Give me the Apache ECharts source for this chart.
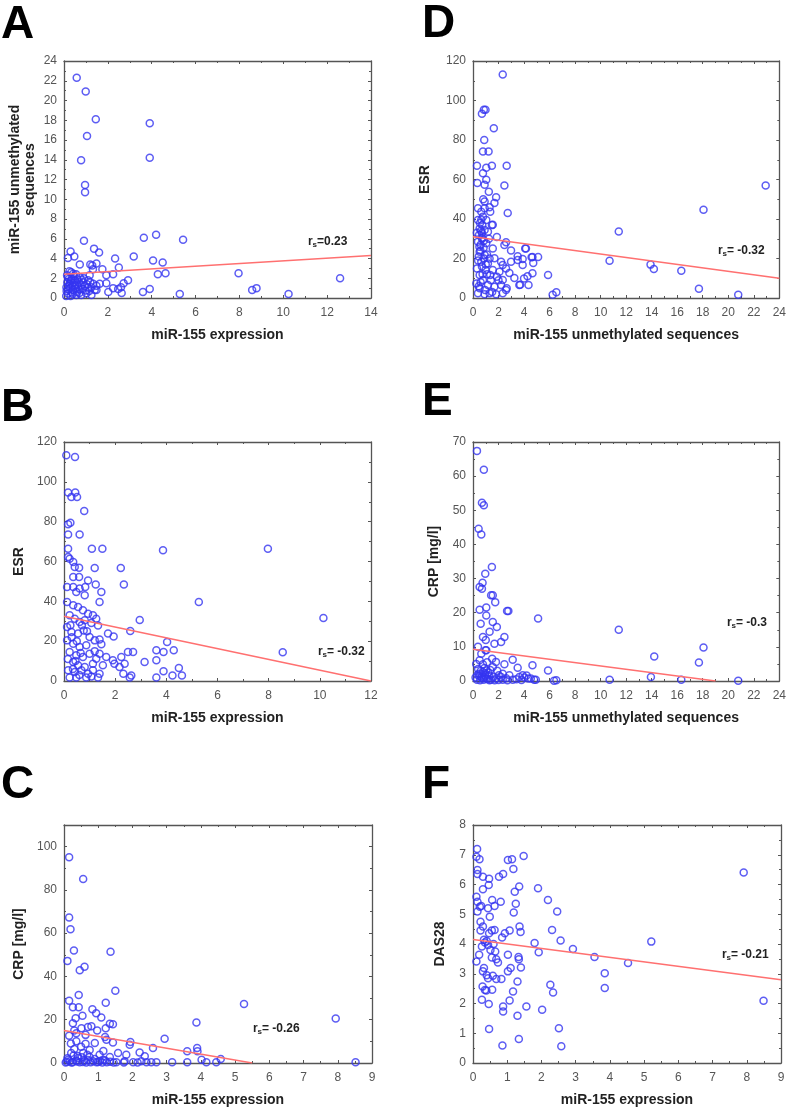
<!DOCTYPE html>
<html><head><meta charset="utf-8">
<script src="https://cdn.jsdelivr.net/npm/echarts@6/dist/echarts.min.js"></script>
<style>html,body{margin:0;padding:0;background:#fff}#c{width:789px;height:1110px}</style>
</head><body><div id="c"></div>
<script>
// ---------- DATA ----------
// Panel A: x = miR-155 expression, y = miR-155 unmethylated sequences
const pointsA = [[0.58,22.3],[0.99,20.9],[1.45,18.1],[1.05,16.4],[3.91,17.7],[3.91,14.2],[0.78,13.95],[0.96,11.45],[0.96,10.7],[0.91,5.8],[3.64,6.1],[4.2,6.4],[5.43,5.9],[0.3,4.7],[0.18,4.05],[0.47,4.2],[1.37,5.0],[1.6,4.6],[0.72,3.4],[2.33,4.0],[3.18,4.2],[4.06,3.8],[4.5,3.6],[2.5,3.1],[1.29,3.3],[1.48,3.5],[1.32,2.9],[1.75,2.9],[2.24,2.4],[1.93,2.3],[4.28,2.4],[4.63,2.5],[7.96,2.5],[12.59,2.0],[2.92,1.8],[2.72,1.5],[1.93,1.5],[2.47,0.9],[2.63,0.5],[2.02,0.6],[3.6,0.6],[3.91,0.9],[5.28,0.4],[8.58,0.8],[8.78,1.0],[10.24,0.4],[2.24,1.0],[1.48,1.25],[2.6,1.1],[1.2,3.4],
[0.14,2.3],[0.33,2.6],[0.72,2.1],[0.49,1.8],[0.26,1.45],[0.41,0.8],[0.18,0.45],[0.64,1.1],[0.87,1.6],[1.1,1.8],[1.25,1.1],[1.4,0.8],[1.63,1.45],[1.02,0.45],[0.79,0.3],[0.56,0.3],[0.11,1.1],[0.33,1.8],[1.17,2.3],[1.48,0.8],[0.95,1.2],[0.44,2.2],[0.72,0.85],[1.25,0.3],[0.23,1.95],[1.33,1.45],[0.3,0.2],[0.5,1.3],[0.6,0.6],[0.85,0.9],[1.05,1.4],[0.2,0.9],[0.38,1.25],[0.1,0.2],[1.15,0.7],[0.68,1.6],[0.9,2.0],[0.35,2.0],[0.55,2.4],[0.25,2.7],[0.15,1.6],[0.4,0.4],[0.28,1.0],[0.62,1.9],[0.8,1.3],
[0.12,0.7],[0.22,1.25],[0.36,0.55],[0.45,1.55],[0.52,0.9],[0.7,0.5],[0.82,1.85],[0.98,0.75],[1.1,1.05],[1.2,1.6],[0.3,1.7],[0.18,2.1],[0.42,2.45],[0.6,1.35]];
const fitA = [[0,2.4],[14,4.3]];
// Panel D: x = miR-155 unmethylated sequences, y = ESR
const pointsD = [[2.33,113.2],[0.7,93.3],[0.85,95.3],[0.98,95.3],[1.63,86],[0.88,80],[0.78,74.2],[1.22,74.2],[0.31,67],[1.48,67],[2.64,67],[1.04,66],[0.34,58.2],[0.91,57.3],[2.46,57],[0.78,63.2],[1.04,59.9],[1.24,53.8],[1.81,51],[0.39,45.5],[1.68,48.1],[0.91,48.9],[2.72,43],[0.65,39.6],[1.55,37.1],[11.42,33.7],[1.87,30.9],[0.7,32.9],[2.59,28.2],[2.98,24],[4.09,25.1],[3.5,21.1],[3.89,19.7],[4.66,20.7],[5.1,20.7],[4.72,17.7],[10.7,18.9],[13.91,16.9],[14.17,14.7],[16.32,13.8],[18.06,44.7],[22.93,57],[17.7,4.7],[20.78,1.7],[5.88,11.6],[6.24,1.7],[6.53,2.9],[4.27,11],[4.35,6.6],[3.7,6.7],[3.24,10.1],[2.85,12.6],
[0.91,45.4],[1.3,45.9],[0.65,43.7],[0.78,41.2],[1.35,43.7],[0.39,39.5],[1.04,39.5],[0.73,36.9],[1.48,36.9],[0.52,35.2],[0.91,34.4],[1.17,33.6],[0.47,31.9],[0.73,30.5],[0.39,28.5],[1.04,27.7],[0.83,25.5],[1.55,25.1],[0.52,23.4],[2.46,26.8],[0.91,21.8],[1.68,20.1],[2.2,18.4],[2.33,16.7],[0.65,18.4],[1.17,17.5],[0.31,15],[0.98,14.2],[1.55,14.2],[2.07,13.3],[2.59,15],[0.52,11.6],[1.35,11.6],[1.87,10.8],[0.78,9.1],[2.33,9.1],[0.26,7.4],[1.17,6.6],[1.68,5.7],[2.2,6.6],[0.52,4.9],[2.64,4.9],[0.39,2.4],[0.91,1.9],[1.3,2.4],[1.81,1.9],[2.33,2.4],[2.59,4],[3.63,6.6],[4.0,9.9],[4.66,12.5],[3.89,16.7],[4.15,25.1],[4.59,20.6],[3.5,19.2],[2.98,18.4],[0.6,27],[0.85,29],[0.45,21],[0.7,16],[1.1,22],[0.6,8],[1.4,9],[0.95,4],[0.3,33],[1.25,30],[0.55,38],[0.8,50],[0.5,26],[0.75,12],
[0.62,34],[0.7,30],[0.58,24],[0.85,20],[1.0,17],[1.3,20],[0.4,19],[1.1,12],[1.5,3],[2.0,9],[0.45,6]];
const fitD = [[0,31],[24,10]];
// Panel B: x = miR-155 expression, y = ESR
const pointsB = [[0.09,113.3],[0.43,112.5],[0.16,94.6],[0.44,94.6],[0.51,92.4],[0.29,92.4],[0.79,85.4],[0.16,78.7],[0.25,79.5],[0.16,73.6],[0.61,73.6],[0.16,66.4],[1.09,66.4],[1.5,66.4],[3.87,65.6],[7.97,66.4],[0.16,62.3],[0.22,61.4],[0.36,59.7],[0.42,57.2],[0.59,56.9],[1.2,56.7],[2.22,56.7],[0.36,52.2],[0.59,52.2],[0.94,50.5],[1.24,48.5],[2.34,48.5],[0.12,47.2],[0.36,47.2],[0.61,46.4],[0.83,47.2],[1.46,44.7],[0.81,43],[0.48,44.7],[5.27,39.7],[1.39,39.7],[0.12,39.7],[0.36,38],[0.55,37.2],[0.74,35.5],[0.94,33.8],[1.13,33],[1.26,31.3],[0.22,33],[0.42,31.3],[0.61,29.6],[0.81,30.5],[1.07,29.1],[1.33,27.9],[0.12,27.1],[0.29,24.6],[0.55,23.8],[0.77,25.4],[1.0,22.1],[1.2,20.4],[1.39,20.8],[1.46,18.4],[1.72,23.8],[1.94,22.4],[2.59,25.1],[2.96,30.6],[10.14,31.6],[8.55,14.4],[0.12,20.4],[0.36,18.7],[0.61,17.1],[0.87,17.9],[0.22,14.6],[0.48,12.9],[0.74,12.1],[1.0,13.7],[1.26,11.2],[1.39,13.7],[1.65,12.1],[1.91,10.4],[2.24,12.1],[2.5,14.6],[2.7,14.6],[3.15,9.5],[3.61,10.4],[3.61,15.4],[3.89,14.6],[4.03,19.6],[4.29,15.4],[0.36,9.5],[0.55,7.9],[0.81,7.0],[1.13,8.7],[1.52,7.9],[1.97,8.7],[2.17,7],[2.37,8.7],[0.16,5.4],[0.42,4.5],[0.68,5.4],[0.94,3.7],[1.13,5.4],[1.39,3.7],[0.22,1.7],[0.48,1.7],[0.87,1.7],[1.07,2.3],[1.33,1.7],[2.57,1.7],[2.63,2.8],[3.61,1.7],[3.89,4.9],[4.24,2.8],[4.49,6.5],[4.61,2.8],[2.32,3.7],[0.3,22],[0.5,20],[0.7,28],[0.45,10],[0.65,14],[0.25,28],[0.9,25],[0.35,6],[0.6,3],[1.2,15],[0.15,11]];
const fitB = [[0,32.5],[12,0]];
// Panel E: x = miR-155 unmethylated sequences, y = CRP [mg/l]
const pointsE = [[0.31,67.4],[0.85,61.9],[0.7,52.2],[0.85,51.5],[0.44,44.6],[0.65,42.9],[1.48,33.4],[0.96,31.4],[0.75,28.8],[0.52,27.5],[0.7,27],[1.42,25.1],[1.55,25.1],[1.74,23.1],[2.67,20.5],[2.77,20.5],[5.1,18.3],[11.42,15],[1.04,21.5],[0.52,20.9],[0.6,16.8],[1.04,19.2],[1.55,17.3],[1.87,15.8],[1.3,14.4],[0.78,12.9],[2.46,12.9],[2.2,11.4],[1.68,10.9],[0.39,10],[1.04,9],[18.06,9.8],[14.2,7.2],[17.7,5.4],[3.11,6.2],[3.5,3.9],[4.66,4.6],[5.88,3.1],[2.46,4.9],[1.55,4.1],[0.78,2.6],[3.89,1.7],[4.33,0.7],[4.79,0.4],[6.35,0.1],[6.53,0.2],[10.7,0.4],[13.94,1.2],[16.32,0.4],[20.78,0.1],
[0.98,9],[0.65,8],[0.52,6.1],[1.04,3.1],[0.78,4.9],[2.33,2.1],[2.85,1.7],[3.63,1.2],[4.02,1.0],[4.53,0.7],[4.92,0.4],[0.47,2.1],[0.65,1.2],[1.04,0.7],[1.42,0.4],[1.81,0.7],[2.33,0.4],[3.11,0.4],[0.31,0.4],[0.83,0.4],[1.24,1.7],[2.02,1.7],[0.9,3.8],[1.2,2.5],[0.5,1.5],[1.6,1.2],[2.6,0.8],[3.4,0.5],[0.95,1.6],[1.1,5.5],[0.4,3.5],[1.9,3],[0.7,0.8],[2.0,0.3],[1.3,0.2],[0.2,1.0],[1.5,6.5],[1.0,12],
[0.55,0.2],[0.88,1.1],[1.15,0.5],[1.7,0.2],[2.2,1.2],[2.7,0.2],[0.35,1.8],[0.6,2.9],[0.95,2.3],[1.35,3.2],[3.8,0.3],[4.2,1.6],[0.25,5],[1.8,5.6]];
const fitE = [[0,9.3],[19,0]];
// Panel C: x = miR-155 expression, y = CRP [mg/l]
const pointsC = [[0.15,95.1],[0.56,85],[0.15,67.3],[0.19,61.8],[0.29,52],[1.36,51.4],[0.1,47.2],[0.46,42.9],[0.6,44.5],[1.5,33.4],[0.43,31.4],[0.15,28.8],[1.22,27.8],[5.26,27.3],[0.26,25.8],[0.43,25.8],[7.94,20.6],[3.87,18.7],[0.83,24.8],[0.94,23],[0.54,21.8],[1.09,21],[0.34,20.7],[0.26,18.4],[1.43,17.9],[1.34,18.1],[0.7,16.6],[0.51,16.1],[1.22,16.1],[0.97,15],[0.15,12.6],[0.36,13.8],[0.63,13],[1.24,10.7],[1.43,9.5],[0.36,10],[0.63,8.9],[0.9,9.2],[1.94,9.7],[1.92,8.4],[2.94,11.2],[2.6,6.9],[3.6,5.4],[3.89,6.9],[3.9,5.4],[2.21,4.9],[2.36,3.1],[1.82,3.8],[1.58,4.6],[4.02,1.5],[4.58,1.8],[8.52,0.3],[3.16,0.3],[3.6,0.3],[4.16,0.3],[2.55,0.3],[4.45,0.3],[1.04,3.8],[0.56,4.6],[0.21,4.6],[0.41,2.3],[0.75,2.8],[1.34,2.8],[1.14,1.5],[0.85,0.8],[0.17,0.8],[0.46,0.3],[1.53,0.3],[2.02,0.3],[2.26,0.8],[1.77,0.8],[2.7,0.3],[2.41,0.3],
[0.05,0.2],[0.25,0.4],[0.35,1.2],[0.55,0.5],[0.65,0.2],[0.7,1.4],[0.95,0.3],[1.05,0.9],[1.25,0.4],[1.35,0.6],[1.45,0.2],[0.3,6.5],[0.2,9],[0.5,7.5],[0.75,6],[1.15,5.5],[0.4,3.2],[0.1,2.2],[0.9,1.9],[1.2,12],[0.3,15],[0.8,17],[1.0,0.5],[0.12,1.5],
[0.08,0.6],[0.22,0.2],[0.38,0.7],[0.6,1.0],[0.78,0.3],[1.12,0.2],[1.2,1.2],[0.28,3.5],[0.52,2.6],[0.68,3.8],[1.75,0.2],[2.15,0.2]];
const fitC = [[0,15],[5.5,0]];
// Panel F: x = miR-155 expression, y = DAS28
const pointsF = [[0.12,7.19],[0.1,6.93],[0.19,6.85],[1.02,6.82],[1.14,6.85],[1.48,6.96],[0.13,6.49],[1.18,6.52],[0.13,6.35],[0.29,6.26],[0.47,6.19],[0.76,6.26],[0.88,6.35],[7.91,6.4],[0.46,5.98],[1.35,5.93],[1.9,5.87],[0.29,5.84],[1.22,5.76],[0.1,5.59],[0.13,5.42],[0.24,5.28],[0.56,5.48],[0.81,5.42],[2.19,5.48],[1.25,5.35],[0.63,5.28],[0.44,5.2],[0.13,5.09],[1.19,5.06],[2.46,5.09],[0.49,4.92],[0.22,4.75],[0.29,4.59],[1.36,4.59],[2.31,4.47],[0.63,4.47],[0.22,4.45],[1.39,4.4],[1.07,4.45],[0.47,4.36],[0.93,4.36],[0.32,4.14],[2.56,4.12],[5.21,4.08],[0.85,4.22],[1.8,4.03],[0.44,3.97],[0.26,3.92],[1.92,3.72],[2.92,3.83],[0.18,3.64],[0.51,3.8],[3.55,3.56],[4.53,3.36],[1.02,3.64],[1.33,3.56],[1.34,3.49],[0.73,3.38],[0.68,3.49],[0.1,3.41],[0.32,3.19],[0.29,3.08],[1.4,3.21],[1.1,3.19],[1.02,3.08],[0.58,2.93],[0.44,2.85],[0.68,2.82],[0.83,2.82],[3.85,3.02],[0.28,2.57],[0.39,2.44],[0.56,2.46],[2.26,2.63],[2.34,2.37],[3.85,2.52],[1.3,2.74],[1.17,2.4],[8.49,2.09],[0.26,2.13],[0.46,1.98],[1.07,2.1],[1.56,1.9],[2.02,1.79],[0.88,1.9],[0.88,1.73],[1.3,1.59],[0.47,1.14],[2.51,1.17],[1.34,0.81],[0.86,0.59],[2.58,0.56],[0.35,4.05],[0.4,4.1],[0.55,3.55],[0.6,4.0],[0.35,2.45],[0.4,2.95],[0.55,4.45],[0.2,5.25],[0.65,3.75]];
const fitF = [[0,4.15],[9,2.8]];

const rsA = '=0.23', rsD = '= -0.32', rsB = '= -0.32', rsE = '= -0.3', rsC = '= -0.26', rsF = '= -0.21';
const xNameExpr = 'miR-155 expression';
const xNameUnmeth = 'miR-155 unmethylated sequences';

// ---------- LAYOUT ----------
const panels = [
  {letter:'A', pts:pointsA, fit:fitA, rs:rsA, grid:{left:64,top:61,width:307,height:237}, x:[0,14,2], y:[0,24,2], xName:xNameExpr, yName:'miR-155 unmethylated\nsequences', yGap:26, letterPos:[1,2], rsPos:[308,236]},
  {letter:'D', pts:pointsD, fit:fitD, rs:rsD, grid:{left:473,top:61,width:309,height:237}, x:[0,24,2], y:[0,120,20], xName:xNameUnmeth, yName:'ESR', yGap:40, letterPos:[422,1], rsPos:[718,245]},
  {letter:'B', pts:pointsB, fit:fitB, rs:rsB, grid:{left:64,top:442,width:307,height:239}, x:[0,12,2], y:[0,120,20], xName:xNameExpr, yName:'ESR', yGap:37, letterPos:[1,385], rsPos:[318,646]},
  {letter:'E', pts:pointsE, fit:fitE, rs:rsE, grid:{left:473,top:442,width:309,height:239}, x:[0,24,2], y:[0,70,10], xName:xNameUnmeth, yName:'CRP [mg/l]', yGap:31, letterPos:[422,379], rsPos:[727,617]},
  {letter:'C', pts:pointsC, fit:fitC, rs:rsC, grid:{left:64,top:825,width:308,height:238}, x:[0,9,1], y:[0,110,20], xName:xNameExpr, yName:'CRP [mg/l]', yGap:37, letterPos:[1,762], rsPos:[253,1023]},
  {letter:'F', pts:pointsF, fit:fitF, rs:rsF, grid:{left:473,top:825,width:308,height:238}, x:[0,9,1], y:[0,8,1], xName:xNameExpr, yName:'DAS28', yGap:25, letterPos:[422,762], rsPos:[722,949]}
];

const FONT = '"Liberation Sans", Arial, sans-serif';
const frameColor = '#555';
const option = {
  animation:false, backgroundColor:'#fff',
  grid:[], xAxis:[], yAxis:[], series:[], graphic:[]
};

panels.forEach((p,i)=>{
  option.grid.push(Object.assign({containLabel:false}, p.grid));
  const common = (min,max,int)=>({
    min, max, interval:int, splitLine:{show:false},
    axisLine:{show:true, onZero:false, lineStyle:{color:frameColor, width:1.3}},
    axisTick:{show:true, inside:true, length:3, lineStyle:{color:frameColor}},
    minorTick:{show:true, splitNumber:2, length:2, lineStyle:{color:frameColor}},
  });
  option.xAxis.push(Object.assign(common(p.x[0],p.x[1],p.x[2]), {
    type:'value', gridIndex:i, position:'bottom',
    name:p.xName, nameLocation:'middle', nameGap:30,
    nameTextStyle:{fontFamily:FONT, fontWeight:'bold', fontSize:14, color:'#222'},
    axisLabel:{fontFamily:FONT, fontSize:12, color:'#555', margin:9}
  }));
  option.xAxis.push(Object.assign(common(p.x[0],p.x[1],p.x[2]), {
    type:'value', gridIndex:i, position:'top', axisLabel:{show:false}
  }));
  option.yAxis.push(Object.assign(common(p.y[0],p.y[1],p.y[2]), {
    type:'value', gridIndex:i, position:'left',
    name:p.yName, nameLocation:'middle', nameGap:p.yGap,
    nameTextStyle:{fontFamily:FONT, fontWeight:'bold', fontSize:14, color:'#222', lineHeight:15},
    axisLabel:{fontFamily:FONT, fontSize:12, color:'#555', margin:7, showMaxLabel: p.y[1] % p.y[2] === 0}
  }));
  option.yAxis.push(Object.assign(common(p.y[0],p.y[1],p.y[2]), {
    type:'value', gridIndex:i, position:'right', axisLabel:{show:false}
  }));
  option.series.push({
    type:'scatter', xAxisIndex:2*i, yAxisIndex:2*i, data:p.pts,
    symbol:'circle', symbolSize:7,
    itemStyle:{color:'rgba(0,0,0,0)', borderColor:'#3434f0', borderWidth:1.5},
    z:3
  });
  option.series.push({
    type:'line', xAxisIndex:2*i, yAxisIndex:2*i, data:p.fit,
    symbol:'none', lineStyle:{color:'#ff7070', width:1.5}, z:4
  });
  option.graphic.push({type:'text', left:p.letterPos[0], top:p.letterPos[1],
    style:{text:p.letter, font:'bold 46px '+FONT, fill:'#000'}});
  option.graphic.push({type:'group', left:p.rsPos[0], top:p.rsPos[1], children:[
    {type:'text', x:0, y:0, style:{text:'r', font:'bold 12px '+FONT, fill:'#222'}},
    {type:'text', x:4.5, y:5, style:{text:'s', font:'bold 8px '+FONT, fill:'#222'}},
    {type:'text', x:9, y:0, style:{text:p.rs, font:'bold 12px '+FONT, fill:'#222'}}
  ]});
});

const chart = echarts.init(document.getElementById('c'), null, {renderer:'canvas'});
chart.setOption(option);
</script>
</body></html>
